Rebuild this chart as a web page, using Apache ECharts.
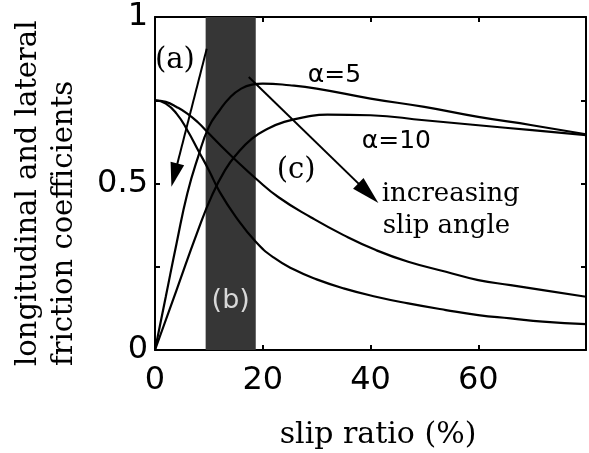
<!DOCTYPE html>
<html><head><meta charset="utf-8">
<script src="https://cdn.jsdelivr.net/npm/echarts@6/dist/echarts.min.js"></script>
<style>html,body{margin:0;padding:0;background:#fff}#c{width:589px;height:453px}</style>
</head><body><div id="c"></div>
<script>
// ---- data ----
const xTickLabels = {0:'0', 20:'20', 40:'40', 60:'60'};
const yTickLabels = {0:'0', 0.5:'0.5', 1:'1'};

// longitudinal friction, alpha = 5
const long5X = [0,2,4,6,8,10,12,14,16,18,20,25,30,40,50,60,70,80];
const long5Y = [0,0.16,0.32,0.47,0.58,0.67,0.72,0.76,0.785,0.797,0.80,0.795,0.785,0.755,0.73,0.70,0.675,0.648];
// longitudinal friction, alpha = 10
const long10X = [0,4,8,10.6,13,15,18,21,24,28,32,40,50,60,70,80];
const long10Y = [0,0.18,0.36,0.465,0.54,0.585,0.635,0.665,0.685,0.70,0.707,0.705,0.69,0.675,0.66,0.645];
// lateral friction (upper)
const latUpX = [0,2,4,6,8,10,12,15,18.7,23,29,35,41,47,54,60,66,72,80];
const latUpY = [0.75,0.745,0.73,0.71,0.683,0.65,0.617,0.57,0.515,0.458,0.398,0.345,0.30,0.265,0.235,0.21,0.195,0.18,0.16];
// lateral friction (lower)
const latLoX = [0,2,4,6,8,10,12,15,18.7,22,26,30,35,41,47,54,60,66,72,80];
const latLoY = [0.75,0.74,0.71,0.66,0.60,0.54,0.475,0.40,0.325,0.278,0.24,0.212,0.185,0.16,0.14,0.12,0.105,0.095,0.085,0.078];

// shaded region (b)
const bandRange = [9.4, 18.7];
const bandText = '(b)';

// arrows: [startX, startY, endX, endY]
const arrowA = [9.6, 0.905, 3.6, 0.525];
const arrowC = [17.4, 0.82, 39.6, 0.471];

// annotations: [x, y, text]
const serifNotes = [[3.7, 0.868, '(a)'], [26.2, 0.54, '(c)'], [54.9, 0.467, 'increasing'], [54.1, 0.371, 'slip angle']];
const sansNotes = [[33.3, 0.823, 'α=5'], [44.8, 0.625, 'α=10']];

// ---- chart ----
const zip = (xs, ys) => xs.map((x, i) => [x, ys[i]]);
const chart = echarts.init(document.getElementById('c'), null, {renderer: 'canvas'});
const lineStyle = {color: '#000', width: 2.2};
const mkLine = (name, data, extra) => Object.assign({
  name, type: 'line', data, showSymbol: false, symbol: 'none',
  smooth: 0.5, lineStyle, silent: true, z: 3
}, extra || {});

const arrowLine = (a, size) => ({
  symbol: ['none', 'triangle'], symbolSize: size,
  lineStyle: {color: '#000', width: 2, type: 'solid'},
  itemStyle: {color: '#000'},
  label: {show: false}, silent: true,
  data: [[{coord: [a[0], a[1]]}, {coord: [a[2], a[3]]}]]
});

const axisCommon = {
  type: 'value',
  axisLine: {show: true, onZero: false, lineStyle: {color: '#000', width: 2}},
  axisTick: {show: true, inside: true, length: 5, lineStyle: {color: '#000', width: 2}},
  splitLine: {show: false}
};

const option = {
  animation: false,
  backgroundColor: '#fff',
  grid: {left: 155, top: 17, width: 436, height: 333, containLabel: false},
  xAxis: [Object.assign({}, axisCommon, {
    min: 0, max: 80, interval: 20,
    axisLabel: {show: true, margin: 14, fontFamily: 'DejaVu Sans', fontSize: 32, color: '#000', lineHeight: 34,
      formatter: v => xTickLabels[v] !== undefined ? xTickLabels[v] : ''}
  }), Object.assign({}, axisCommon, {
    min: 0, max: 80, interval: 20, position: 'top', axisLabel: {show: false}
  })],
  yAxis: [Object.assign({}, axisCommon, {
    min: 0, max: 1, interval: 0.25,
    axisLabel: {show: true, margin: 7, fontFamily: 'DejaVu Sans', fontSize: 32, color: '#000',
      formatter: v => yTickLabels[v] !== undefined ? yTickLabels[v] : ''}
  }), Object.assign({}, axisCommon, {
    min: 0, max: 1, interval: 0.25, position: 'right', axisLabel: {show: false}
  })],
  series: [
    mkLine('long5', zip(long5X, long5Y), {
      markArea: {
        silent: true,
        itemStyle: {color: '#363636'},
        label: {show: true, position: 'insideBottom', distance: 36, color: '#d8d8d8',
          fontFamily: 'DejaVu Sans', fontSize: 27},
        data: [[{xAxis: bandRange[0], name: bandText}, {xAxis: bandRange[1]}]]
      },
      markLine: arrowLine(arrowA, [14, 24])
    }),
    mkLine('long10', zip(long10X, long10Y), {markLine: arrowLine(arrowC, [15, 28])}),
    mkLine('latUp', zip(latUpX, latUpY)),
    mkLine('latLo', zip(latLoX, latLoY)),
    {
      type: 'scatter', symbolSize: 0, silent: true, z: 5,
      itemStyle: {opacity: 1},
      data: serifNotes.map(n => ({value: n, label: {fontSize: n[2].length <= 3 ? 29 : 26}})),
      label: {show: true, position: 'inside', formatter: p => p.value[2],
        fontFamily: 'DejaVu Serif', fontSize: 26, color: '#000', textBorderWidth: 0, opacity: 1}
    },
    {
      type: 'scatter', data: sansNotes, symbolSize: 0, silent: true, z: 5,
      itemStyle: {opacity: 1},
      label: {show: true, position: 'inside', formatter: p => p.data[2],
        fontFamily: 'DejaVu Sans', fontSize: 25, color: '#000', textBorderWidth: 0, opacity: 1}
    }
  ],
  graphic: [
    {
      type: 'text', x: 46, y: 366, rotation: Math.PI / 2, silent: true,
      style: {text: 'longitudinal and lateral\nfriction coefficients', fill: '#000',
        font: '29px "DejaVu Serif"', lineHeight: 36,
        align: 'left', verticalAlign: 'middle', textAlign: 'left', textVerticalAlign: 'middle'}
    },
    {
      type: 'text', x: 378, y: 435, silent: true,
      style: {text: 'slip ratio (%)', fill: '#000', font: '30px "DejaVu Serif"',
        align: 'center', verticalAlign: 'middle', textAlign: 'center', textVerticalAlign: 'middle'}
    }
  ]
};
chart.setOption(option);
</script>
</body></html>
